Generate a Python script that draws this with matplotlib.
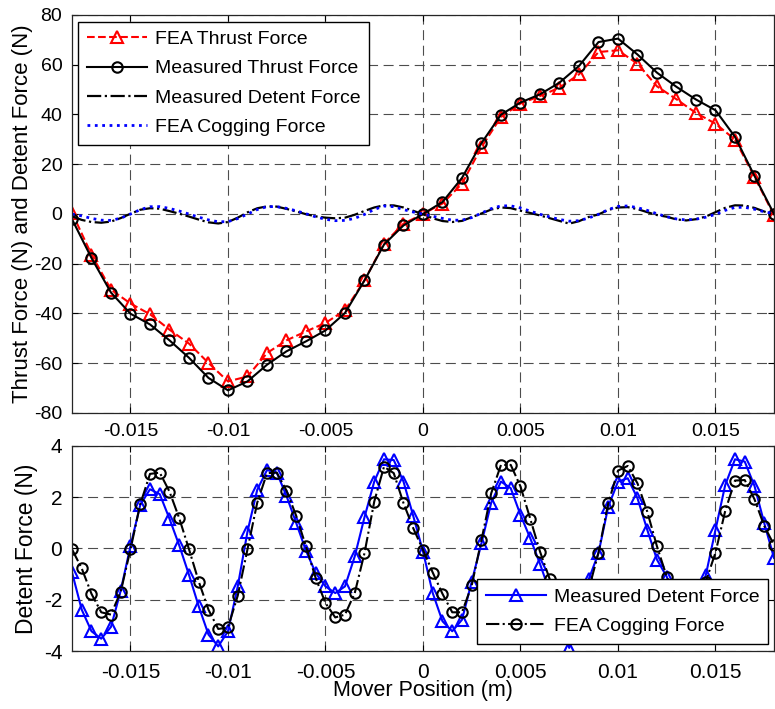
import numpy as np
import matplotlib
matplotlib.use('Agg')
import matplotlib.pyplot as plt

plt.rcParams['font.family'] = ['Liberation Sans', 'DejaVu Sans']
plt.rcParams['font.size'] = 14
plt.rcParams['axes.unicode_minus'] = False

# thrust force, sampled every 1 mm
pos_thrust = np.linspace(-0.018, 0.018, 37)
fea_thrust = [0.5, -16.3, -30.4, -36.0, -40.3, -46.5, -52.1, -59.9, -67.3, -65.3,
              -55.9, -50.8, -47.2, -43.8, -38.7, -26.7, -11.9, -3.9, 0.0,
              4.2, 12.2, 26.9, 39.0, 44.4, 47.4, 50.8, 56.1, 65.1, 65.8,
              60.4, 51.3, 46.1, 40.6, 36.3, 29.9, 14.9, -0.5]
meas_thrust = [-2.1, -17.7, -31.6, -40.1, -44.4, -50.8, -57.8, -65.9, -70.9, -67.3,
               -60.6, -55.2, -51.2, -46.8, -39.8, -26.7, -12.3, -4.6, 0.0,
               4.8, 14.5, 28.5, 39.9, 44.8, 48.1, 52.8, 59.5, 69.1, 70.5,
               64.1, 56.8, 51.1, 46.0, 41.7, 31.0, 15.3, 0.0]

# detent / cogging force, sampled every 0.5 mm
pos_detent = np.linspace(-0.018, 0.018, 73)
meas_detent = [-0.93, -2.39, -3.23, -3.52, -3.06, -1.64, 0.10, 1.70, 2.31, 2.12,
               1.16, 0.12, -1.03, -2.26, -3.36, -3.82, -3.23, -1.48, 0.66, 2.29,
               3.06, 2.96, 2.05, 0.99, -0.09, -0.96, -1.48, -1.74, -1.48, -0.31,
               1.22, 2.61, 3.48, 3.45, 2.61, 1.27, -0.12, -1.74, -2.84, -3.23,
               -2.78, -1.29, 0.21, 1.79, 2.61, 2.35, 1.31, 0.40, -0.60, -1.70,
               -2.80, -3.88, -2.90, -1.20, -0.18, 1.63, 2.61, 2.74, 1.96, 0.73,
               -0.44, -1.10, -2.20, -2.60, -2.10, -1.05, 0.73, 2.48, 3.48, 3.39,
               2.44, 0.99, -0.37]
fea_cogging = [-0.03, -0.78, -1.77, -2.49, -2.58, -1.68, -0.03, 1.73, 2.91, 2.96,
               2.22, 1.18, -0.03, -1.29, -2.39, -3.14, -3.08, -1.84, -0.03, 1.79,
               2.94, 2.96, 2.26, 1.27, 0.08, -1.16, -2.13, -2.69, -2.58, -1.74,
               -0.18, 1.83, 3.19, 2.94, 1.77, 0.79, -0.05, -0.94, -1.77, -2.49,
               -2.49, -1.44, 0.34, 2.16, 3.26, 3.26, 2.42, 1.16, -0.12, -1.20,
               -2.20, -2.90, -2.70, -1.60, -0.16, 1.77, 3.04, 3.22, 2.54, 1.44,
               0.08, -1.10, -2.00, -2.40, -2.10, -1.30, -0.16, 1.47, 2.65, 2.67,
               1.92, 0.88, 0.14]

xticks = [-0.015, -0.01, -0.005, 0, 0.005, 0.01, 0.015]
xticklabels = ['-0.015', '-0.01', '-0.005', '0', '0.005', '0.01', '0.015']

fig = plt.figure(figsize=(7.75, 7.09), dpi=100)
ax1 = fig.add_axes([0.0929, 0.4175, 0.9058, 0.5614])
ax2 = fig.add_axes([0.0929, 0.0818, 0.9058, 0.2892])

grid_kw = dict(color='0.3', linestyle=(0, (9, 5)), linewidth=0.8)
leg_kw = dict(handlelength=3.1, fancybox=False, edgecolor='black', framealpha=1,
              borderpad=0.45, labelspacing=0.6, handletextpad=0.4,
              borderaxespad=0, fontsize=14)

ax1.plot(pos_thrust, fea_thrust, color='red', linestyle='--', linewidth=1.5,
         marker='^', markersize=8, markerfacecolor='none', markeredgewidth=1.5,
         label='FEA Thrust Force')
ax1.plot(pos_thrust, meas_thrust, color='black', linestyle='-', linewidth=1.5,
         marker='o', markersize=7.5, markerfacecolor='none', markeredgewidth=1.5,
         label='Measured Thrust Force')
ax1.plot(pos_detent, meas_detent, color='black', linestyle='-.', linewidth=1.6,
         label='Measured Detent Force')
ax1.plot(pos_detent, fea_cogging, color='blue', linestyle=':', linewidth=2,
         label='FEA Cogging Force')
ax1.set_xlim(-0.018, 0.018)
ax1.set_ylim(-80, 80)
ax1.set_yticks(np.arange(-80, 81, 20))
ax1.set_xticks(xticks)
ax1.set_xticklabels(xticklabels)
ax1.grid(True, **grid_kw)
ax1.set_ylabel('Thrust Force (N) and Detent Force (N)', fontsize=16, labelpad=1)
ax1.legend(loc='upper left', bbox_to_anchor=(0.0085, 0.983), **leg_kw)
ax1.tick_params(labelsize=14, pad=7)

ax2.plot(pos_detent, meas_detent, color='blue', linestyle='-', linewidth=1.5,
         marker='^', markersize=9, markerfacecolor='none', markeredgewidth=1.5,
         label='Measured Detent Force')
ax2.plot(pos_detent, fea_cogging, color='black', linestyle='-.', linewidth=1.5,
         marker='o', markersize=7.5, markerfacecolor='none', markeredgewidth=1.5,
         label='FEA Cogging Force')
ax2.set_xlim(-0.018, 0.018)
ax2.set_ylim(-4, 4)
ax2.set_yticks([-4, -2, 0, 2, 4])
ax2.set_xticks(xticks)
ax2.set_xticklabels(xticklabels)
ax2.grid(True, **grid_kw)
ax2.set_ylabel('Detent Force (N)', fontsize=16.5, labelpad=4)
ax2.set_xlabel('Mover Position (m)', fontsize=15.5, labelpad=-1)
ax2.legend(loc='lower right', bbox_to_anchor=(0.9915, 0.036), **leg_kw)
ax2.tick_params(labelsize=15, pad=8.5)
ax2.tick_params(axis='y', pad=7)

for ax in (ax1, ax2):
    ax.tick_params(direction='in', length=4, width=0.8, top=True, right=True)
    for s in ax.spines.values():
        s.set_linewidth(0.9)
        s.set_color('0.15')
    ax.set_axisbelow(True)

fig.savefig('out.png', dpi=100)
